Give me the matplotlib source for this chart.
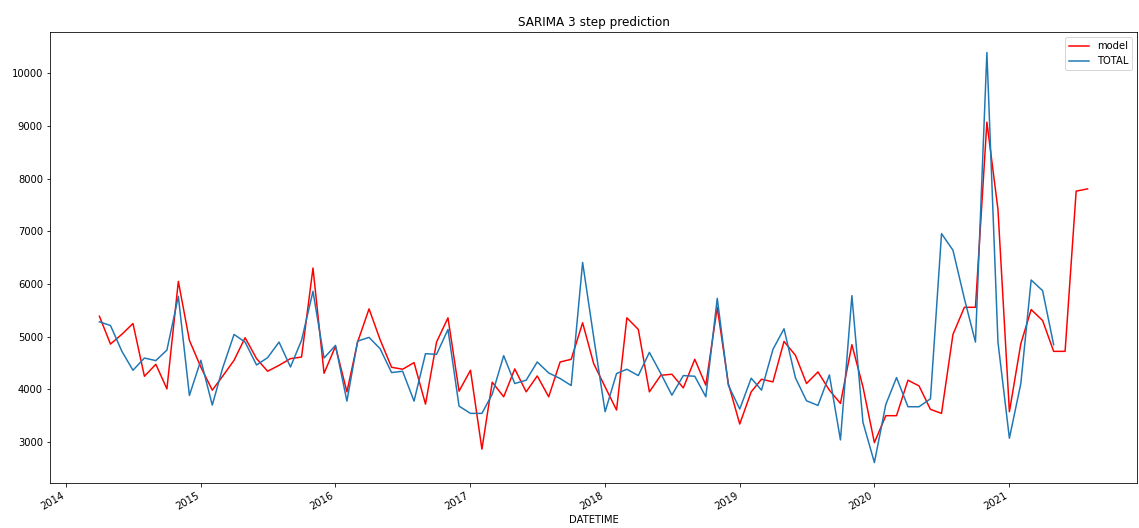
import pandas as pd
import matplotlib
matplotlib.use('Agg')
import matplotlib.pyplot as plt
import matplotlib.dates as mdates

# monthly values, starting 2014-04
model = [5387, 4858, 5045, 5249, 4247, 4474, 4007, 6049, 4928, 4420,
         3983, 4247, 4550, 4979, 4582, 4342, 4455, 4582, 4612, 6302,
         4304, 4814, 3951, 4896, 5527, 4941, 4418, 4380, 4506, 3718,
         4896, 5357, 3964, 4361, 2862, 4134, 3857, 4386, 3951, 4253,
         3857, 4518, 4569, 5262, 4487, 4045, 3605, 5357, 5136, 3951,
         4266, 4285, 4026, 4569, 4077, 5557, 4109, 3340, 3951, 4191,
         4140, 4909, 4644, 4109, 4329, 3983, 3731, 4846, 4045, 2987,
         3498, 3498, 4172, 4064, 3618, 3542, 5041, 5557, 5557, 9073,
         7417, 3573, 4865, 5514, 5306, 4720, 4720, 7763, 7806]

total = [5281, 5211, 4720, 4361, 4593, 4544, 4745, 5765, 3883, 4550,
         3699, 4400, 5041, 4896, 4461, 4600, 4896, 4423, 4930, 5860,
         4593, 4833, 3775, 4915, 4985, 4770, 4317, 4342, 3775, 4676,
         4663, 5136, 3680, 3542, 3542, 3907, 4638, 4109, 4172, 4518,
         4310, 4204, 4071, 6408, 4990, 3573, 4298, 4380, 4260, 4701,
         4298, 3888, 4260, 4247, 3857, 5727, 4077, 3624, 4210, 3983,
         4758, 5149, 4216, 3781, 3693, 4272, 3038, 5778, 3372, 2609,
         3712, 4222, 3668, 3668, 3819, 6956, 6641, 5720, 4896, 10396,
         4896, 3070, 4109, 6075, 5873, 4846]

model_dates = pd.date_range('2014-04-01', periods=len(model), freq='MS')
total_dates = model_dates[:len(total)]

fig = plt.figure(figsize=(1139 / 72, 528 / 72), dpi=72)
ax = fig.add_axes([50 / 1139, 1 - 483 / 528, 1087 / 1139, 451 / 528])

ax.plot(model_dates, model, color='red', label='model')
ax.plot(total_dates, total, color='C0', label='TOTAL')

ax.xaxis.set_major_locator(mdates.YearLocator())
ax.xaxis.set_major_formatter(mdates.DateFormatter('%Y'))
for lbl in ax.get_xticklabels():
    lbl.set_rotation(30)
    lbl.set_ha('right')

ax.set_xlabel('DATETIME')
ax.set_title('SARIMA 3 step prediction')
ax.legend(loc='upper right')

plt.savefig('out.png', dpi=72)
